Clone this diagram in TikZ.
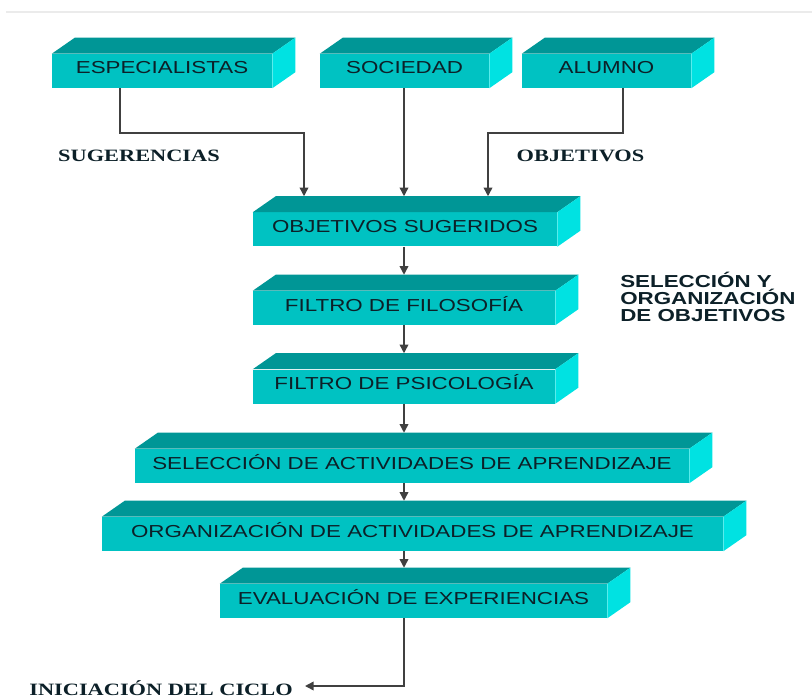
\documentclass[tikz,border=0pt]{standalone}
\usepackage{fontspec}
\newfontfamily\cajafont{Liberation Sans}[FakeStretch=1.29]
\newfontfamily\notafont{Liberation Serif}[FakeStretch=1.29]
\usetikzlibrary{arrows.meta}
\definecolor{cajafrente}{RGB}{0,194,194}
\definecolor{cajatapa}{RGB}{0,150,150}
\definecolor{cajalado}{RGB}{0,226,226}
\definecolor{cajatexto}{RGB}{12,32,40}
\definecolor{linea}{RGB}{64,64,64}

\begin{document}
\begin{tikzpicture}[x=0.75pt,y=-0.75pt,
  caja/.style={fill=cajafrente,inner sep=0pt,minimum height=25.5pt,
    text height=9.5pt,text depth=5pt,text=cajatexto,
    font=\cajafont\fontsize{13}{15}\selectfont},
  nota/.style={inner sep=0pt,text=cajatexto,font=\notafont\bfseries\fontsize{13}{15}\selectfont},
  rotulo/.style={inner sep=0pt,align=left,text=cajatexto,font=\cajafont\bfseries\fontsize{13}{13}\selectfont},
  flecha/.style={draw=linea,line width=1.1pt,-{Triangle[width=6.5pt,length=6.5pt]}}]
  \useasboundingbox (0,0) rectangle (812,698);
  \draw[black!8,line width=1.2pt] (6,12) -- (812,12);

  % cajas
  \node[caja,minimum width=165pt]    (esp) at (162,71)    {ESPECIALISTAS};
  \node[caja,minimum width=126.75pt] (soc) at (404.5,71)  {SOCIEDAD};
  \node[caja,minimum width=126.75pt] (alu) at (606.5,71)  {ALUMNO};
  \node[caja,minimum width=228pt]    (obj) at (405,229.5) {OBJETIVOS SUGERIDOS};
  \node[caja,minimum width=226.5pt]  (fil) at (404,308)   {FILTRO DE FILOSOFÍA};
  \node[caja,minimum width=226.5pt]  (psi) at (404,386.5) {FILTRO DE PSICOLOGÍA};
  \node[caja,minimum width=415.5pt]  (sel) at (412,466)   {SELECCIÓN DE ACTIVIDADES DE APRENDIZAJE};
  \node[caja,minimum width=465.75pt] (org) at (412.5,534) {ORGANIZACIÓN DE ACTIVIDADES DE APRENDIZAJE};
  \node[caja,minimum width=290.25pt] (eva) at (413.5,601) {EVALUACIÓN DE EXPERIENCIAS};

  % tapa y lado de cada caja
  \foreach \n in {esp,soc,alu,obj,fil,psi,sel,org,eva}{
    \fill[cajatapa] (\n.north west) -- ++(23,-16) -- ([shift={(23,-16)}]\n.north east) -- (\n.north east) -- cycle;
    \fill[cajalado] (\n.north east) -- ++(23,-16) -- ([shift={(23,-16)}]\n.south east) -- (\n.south east) -- cycle;
    \path (\n.north) ++(0,-16) coordinate (\n-t);
  }

  % textos
  \node[nota] (sug) at (139,156) {SUGERENCIAS};
  \node[nota] (objtxt) at (580.5,156) {OBJETIVOS};
  \node[rotulo,anchor=west] (selobj) at (620,297) {SELECCIÓN Y\\ORGANIZACIÓN\\DE OBJETIVOS};
  \node[nota,anchor=base east,inner xsep=9pt] (ini) at (305,695.5) {INICIACIÓN DEL CICLO};

  % flechas
  \coordinate (eje) at (404,0);
  \coordinate (b1) at (120,133);
  \coordinate (b2) at (304,133);
  \coordinate (b3) at (623,133);
  \coordinate (b4) at (488,133);
  \coordinate (b5) at (404,686);
  \draw[flecha] (esp.south -| b1) -- (b1) -- (b2) -- (b2 |- obj-t);
  \draw[flecha] (soc.south -| eje) -- (obj-t -| eje);
  \draw[flecha] (alu.south -| b3) -- (b3) -- (b4) -- (b4 |- obj-t);
  \foreach \a/\b in {obj/fil,fil/psi,psi/sel,sel/org,org/eva}
    \draw[flecha] (\a.south -| eje) -- (\b-t -| eje);
  \draw[flecha] (eva.south -| eje) -- (b5) -- (ini.east |- b5);
\end{tikzpicture}
\end{document}
